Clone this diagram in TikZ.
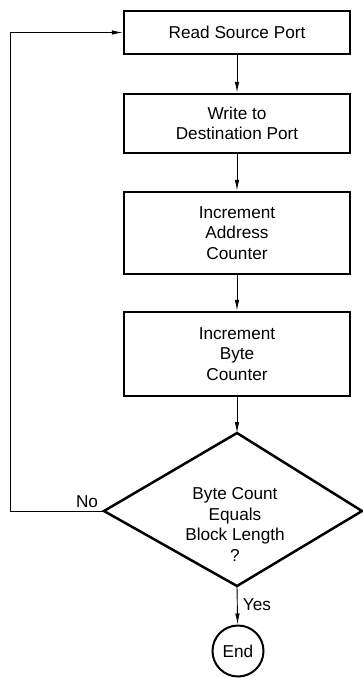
\documentclass[tikz,border=0pt]{standalone}
\usepackage{fontspec}
\setmainfont{Liberation Sans}
\usetikzlibrary{arrows.meta}

\tikzset{
  x=1pt, y=-1pt,
  every node/.style={font=\fontsize{17.2}{20.5}\selectfont, align=center},
  stepbox/.style={draw, line width=2.5pt, minimum width=226pt, inner sep=0pt},
  flow/.style={line width=0.9pt, -{Latex[length=11pt,width=4.5pt]}},
  decision/.style={draw, line width=2.5pt, line join=miter},
  endcircle/.style={draw, circle, line width=2pt, minimum size=51pt, inner sep=0pt},
  tag/.style={inner sep=0pt}
}

\begin{document}
\begin{tikzpicture}
  \useasboundingbox (0,0) rectangle (363,678);

  % process steps
  \node[stepbox, minimum height=43pt] (read)  at (237,32.5) {Read Source Port};
  \node[stepbox, minimum height=59pt] (write) at (237,123.5) {Write to\\Destination Port};
  \node[stepbox, minimum height=82pt] (addr)  at (237,233) {Increment\\Address\\Counter};
  \node[stepbox, minimum height=84pt] (byte)  at (237,354) {Increment\\Byte\\Counter};

  % decision
  \coordinate (dtop)    at (237,433);
  \coordinate (dright)  at (362,511);
  \coordinate (dbottom) at (237,586);
  \coordinate (dleft)   at (104,511);
  \draw[decision] (dtop) -- (dright) -- (dbottom) -- (dleft) -- cycle;
  \node (dtext) at (235,524.5) {Byte Count\\Equals\\Block Length\\?};

  % terminator
  \node[endcircle] (end) at (238,651) {End};

  % connectors
  \draw[flow] (read) -- (write);
  \draw[flow] (write) -- (addr);
  \draw[flow] (addr) -- (byte);
  \draw[flow] (byte) -- (dtop);
  \draw[flow] (dbottom) -- (end);
  \coordinate (loopbot) at (10,511);
  \coordinate (looptop) at (10,32.5);
  \draw[flow] (dleft) -- (loopbot) -- (looptop) -- (read.west);

  % branch labels
  \node[tag] (nolab)  at (87,502) {No};
  \node[tag] (yeslab) at (257,605) {Yes};
\end{tikzpicture}
\end{document}
